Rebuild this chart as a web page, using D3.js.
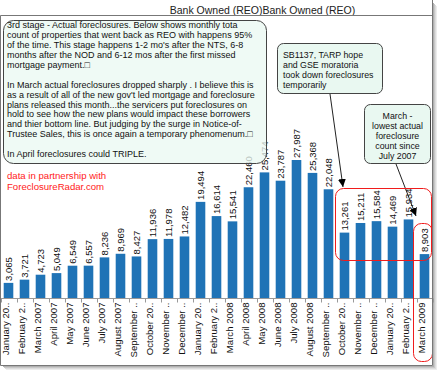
<!DOCTYPE html>
<html><head><meta charset="utf-8">
<script src="https://cdn.jsdelivr.net/npm/d3@7/dist/d3.min.js"></script>
<style>
html,body{margin:0;padding:0;background:#fff;}
svg{display:block;font-family:"Liberation Sans",Arial,sans-serif;}
</style></head>
<body>
<svg id="c" width="437" height="370"></svg>
<script>
const months = ["January 20..","February 2..","March 2007","April 2007","May 2007","June 2007","July 2007","August 2007","September ..","October 20..","November ..","December ..","January 20..","February 2..","March 2008","April 2008","May 2008","June 2008","July 2008","August 2008","September ..","October 20..","November ..","December ..","January 20..","February 2..","March 2009"];
const values = [3065,3721,4723,5049,6549,6557,8236,8969,8427,11936,11978,12482,19494,16614,15541,22460,25474,23787,27987,25368,22048,13261,15211,15584,14469,15934,8903];
const title = "Bank Owned (REO)Bank Owned (REO)";
const note1 = ["3rd stage - Actual foreclosures.  Below shows monthly tota",
"count of properties that went back as REO with happens 95%",
"of the time.  This stage happens 1-2 mo's after the NTS, 6-8",
"months after the NOD and 6-12 mos after the first missed",
"mortgage payment.\u25A1",
"",
"In March actual foreclosures dropped sharply . I believe this is",
"as a result of all of the new gov't led mortgage and foreclosure",
"plans released this month...the servicers put foreclosures on",
"hold to see how the new plans would impact  these borrowers",
"and thier bottom line. But judging by the surge in Notice-of-",
"Trustee Sales, this is once again a temporary  phenomenum.\u25A1",
"",
"In April foreclosures could TRIPLE."];
const note2 = ["SB1137, TARP hope","and GSE moratoria","took down foreclosures","temporarily"];
const note3 = ["March -","lowest actual","foreclosure","count since","July 2007"];
const credit = ["data in partnership with","ForeclosureRadar.com"];

const svg = d3.select("#c");
const idx = months.map((m,i)=>i);
const x = d3.scaleBand().domain(idx).range([0.5,432.5]).paddingInner(0.4).paddingOuter(0.2);
const y = d3.scaleLinear().domain([0,30000]).range([298,150.07]);
const fmt = d3.format(",");

// shadow
const sh = svg.append("g");
[["#b0b0b0",433.5],["#c8c8c8",434.5],["#dcdcdc",435.5],["#ececec",436.5]].forEach(([c,p],k)=>{
  sh.append("line").attr("x1",p).attr("x2",p).attr("y1",3+k).attr("y2",366+k).attr("stroke",c);
  sh.append("line").attr("y1",366.5+k).attr("y2",366.5+k).attr("x1",3+k).attr("x2",434+k).attr("stroke",c);
});

// bars
svg.append("g").selectAll("rect").data(values).join("rect")
  .attr("x",(d,i)=>x(i)).attr("width",x.bandwidth())
  .attr("y",d=>y(d)).attr("height",d=>y(0)-y(d))
  .attr("fill","#1f73b6");

// value labels
svg.append("g").selectAll("text").data(values).join("text")
  .attr("transform",(d,i)=>`translate(${x(i)+x.bandwidth()/2},${y(d)-2}) rotate(-90)`)
  .attr("dy","0.35em").attr("font-size","9.5px").attr("fill","#111")
  .text(d=>fmt(d));

// x axis
const ax = svg.append("g").attr("transform","translate(0,298.5)");
ax.append("line").attr("x1",0.5).attr("x2",432.5).attr("stroke","#999");
ax.selectAll("line.t").data(d3.range(months.length+1)).join("line").attr("class","t")
  .attr("x1",i=>Math.round(0.5+x.step()*i)+0.5).attr("x2",i=>Math.round(0.5+x.step()*i)+0.5)
  .attr("y1",0).attr("y2",4).attr("stroke","#999");
ax.selectAll("text").data(months).join("text")
  .attr("transform",(d,i)=>`translate(${x(i)+x.bandwidth()/2+0.5},4) rotate(-90)`)
  .attr("text-anchor","end").attr("font-size","9.6px").attr("fill","#111")
  .text(d=>d);

// note box 1
const b1 = svg.append("g");
b1.append("rect").attr("x",3.5).attr("y",20.5).attr("width",263).attr("height",143).attr("rx",10)
  .attr("fill","#e9f8f1").attr("fill-opacity",0.75).attr("stroke","#444");
b1.selectAll("text").data(note1).join("text")
  .attr("x",7).attr("y",(d,i)=>28.2+i*9.92).attr("font-size","9px").attr("fill","#111")
  .text(d=>d);

// note box 2
const b2 = svg.append("g");
b2.append("rect").attr("x",277.5).attr("y",43.5).attr("width",105).attr("height",50).attr("rx",6)
  .attr("fill","#e9f8f1").attr("stroke","#444");
b2.selectAll("text").data(note2).join("text")
  .attr("x",283).attr("y",(d,i)=>58.2+i*9.9).attr("font-size","8.8px").attr("fill","#111")
  .text(d=>d);

// note box 3
const b3 = svg.append("g");
b3.append("rect").attr("x",364.5).attr("y",104.5).attr("width",66).attr("height",59).attr("rx",6)
  .attr("fill","#e9f8f1").attr("stroke","#444");
b3.selectAll("text").data(note3).join("text")
  .attr("x",397.5).attr("y",(d,i)=>119.2+i*10).attr("text-anchor","middle").attr("font-size","8.8px").attr("fill","#111")
  .text(d=>d);

// arrows
const defs = svg.append("defs");
defs.append("marker").attr("id","ah").attr("viewBox","0 0 10 10").attr("refX",10).attr("refY",5)
  .attr("markerWidth",8).attr("markerHeight",8).attr("markerUnits","userSpaceOnUse").attr("orient","auto")
  .append("path").attr("d","M0,0L10,5L0,10Z").attr("fill","#000");
svg.append("line").attr("x1",330).attr("y1",94).attr("x2",343).attr("y2",187)
  .attr("stroke","#222").attr("stroke-width",1).attr("marker-end","url(#ah)");
svg.append("line").attr("x1",396).attr("y1",164).attr("x2",416).attr("y2",216)
  .attr("stroke","#222").attr("stroke-width",1).attr("marker-end","url(#ah)");

// red highlight boxes
svg.append("rect").attr("x",335.5).attr("y",188.5).attr("width",96).attr("height",72).attr("rx",8)
  .attr("fill","none").attr("stroke","#f01c1c");
svg.append("rect").attr("x",413.5).attr("y",223.5).attr("width",19).attr("height",138).attr("rx",8)
  .attr("fill","none").attr("stroke","#f01c1c");

// credit
svg.append("g").selectAll("text").data(credit).join("text")
  .attr("x",7).attr("y",(d,i)=>178.5+i*11.7).attr("font-size","9.6px").attr("fill","#ff1a1a")
  .text(d=>d);

// title
svg.append("text").attr("x",262.5).attr("y",13.5).attr("text-anchor","middle")
  .attr("font-size","10.5px").attr("fill","#222").text(title);

// frame
svg.append("path").attr("d","M0.5,15.5H432.5M0.5,15.5V365.5H432.5M432.5,0V365.5")
  .attr("fill","none").attr("stroke","#777");
</script>
</body></html>
